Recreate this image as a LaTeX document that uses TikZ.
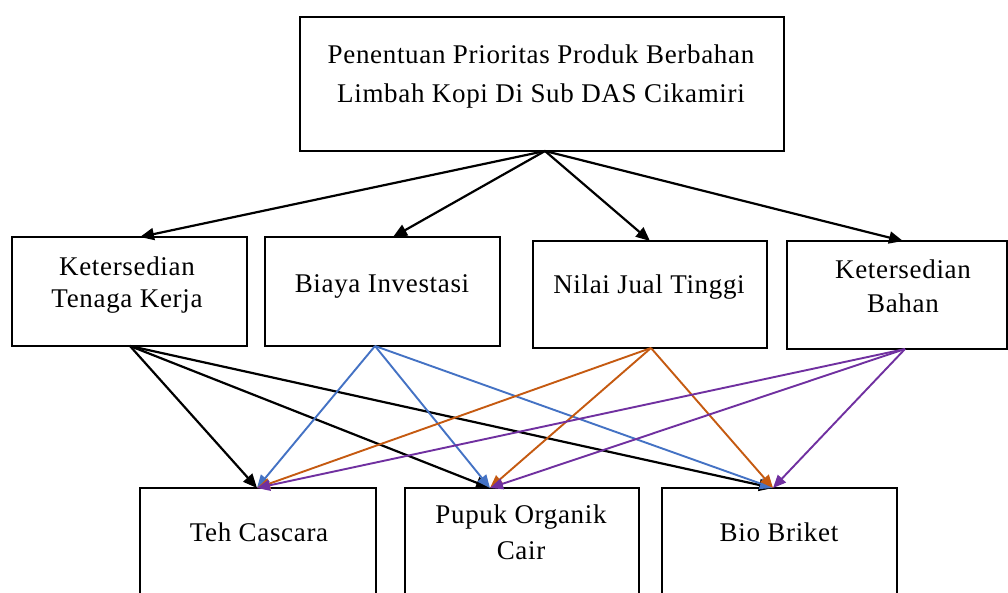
\documentclass[tikz,border=0pt]{standalone}
\usepackage{fontspec}
\setmainfont{Liberation Serif}[LetterSpace=2.5]
\usetikzlibrary{arrows.meta}
\definecolor{cblue}{HTML}{4472C4}
\definecolor{corange}{HTML}{C55A11}
\definecolor{cpurple}{HTML}{7030A0}
\tikzset{
  box/.style={draw=black, line width=2.6pt, fill=white, inner sep=0pt, outer sep=0pt},
  lbl/.style={anchor=base, inner sep=0pt, font=\fontsize{27}{32}\selectfont},
  blk/.style={line width=2.2pt, draw=black, -{Triangle[length=14pt,width=12pt]}},
  col/.style={line width=1.9pt, -{Triangle[length=13pt,width=11pt]}},
}
\begin{document}
\begin{tikzpicture}[x=1pt,y=-1pt]
\useasboundingbox (0,0) rectangle (1008,592);
\clip (0,0) rectangle (1008,592);
\fill[white] (0,0) rectangle (1008,592);
% boxes
\node[box, minimum width=484pt, minimum height=134pt] (top) at (542,84) {};
\node[box, minimum width=235pt, minimum height=109pt] (k1) at (129.5,291.5) {};
\node[box, minimum width=235pt, minimum height=109pt] (k2) at (382.5,291.5) {};
\node[box, minimum width=234pt, minimum height=107pt] (k3) at (650,294.5) {};
\node[box, minimum width=220pt, minimum height=108pt] (k4) at (897,295) {};
\node[box, minimum width=236pt, minimum height=162pt] (b1) at (258,569) {};
\node[box, minimum width=234pt, minimum height=162pt] (b2) at (522,569) {};
\node[box, minimum width=235pt, minimum height=162pt] (b3) at (779.5,569) {};
% labels
\node[lbl] (t0a) at (541,63) {Penentuan Prioritas Produk Berbahan};
\node[lbl] (t0b) at (541,102) {Limbah Kopi Di Sub DAS Cikamiri};
\node[lbl] (t1a) at (127,275) {Ketersedian};
\node[lbl] (t1b) at (127,307) {Tenaga Kerja};
\node[lbl] (t2) at (382,292) {Biaya Investasi};
\node[lbl] (t3) at (649,293) {Nilai Jual Tinggi};
\node[lbl] (t4a) at (903,278) {Ketersedian};
\node[lbl] (t4b) at (903,312) {Bahan};
\node[lbl] (t5) at (259,541) {Teh Cascara};
\node[lbl] (t6a) at (521,523) {Pupuk Organik};
\node[lbl] (t6b) at (521,559) {Cair};
\node[lbl] (t7) at (779,541) {Bio Briket};
% level 1 arrows
\draw[blk] ([xshift=3pt]top.south) -- ([xshift=10.5pt]k1.north);
\draw[blk] ([xshift=3pt]top.south) -- ([xshift=10.5pt]k2.north);
\draw[blk] ([xshift=3pt]top.south) -- (k3.north);
\draw[blk] ([xshift=3pt]top.south) -- ([xshift=6pt]k4.north);
% level 2 arrows
\draw[blk] ([xshift=0.5pt]k1.south) -- ([xshift=-1pt]b1.north);
\draw[blk] ([xshift=0.5pt]k1.south) -- ([xshift=-32pt]b2.north);
\draw[blk] ([xshift=0.5pt]k1.south) -- ([xshift=-6.5pt]b3.north);
\draw[col, cblue] ([xshift=-7.5pt]k2.south) -- ([xshift=-1pt]b1.north);
\draw[col, cblue] ([xshift=-7.5pt]k2.south) -- ([xshift=-32pt]b2.north);
\draw[col, cblue] ([xshift=-7.5pt]k2.south) -- ([xshift=-6.5pt]b3.north);
\draw[col, corange] ([xshift=1pt]k3.south) -- ([xshift=-1pt]b1.north);
\draw[col, corange] ([xshift=1pt]k3.south) -- ([xshift=-32pt]b2.north);
\draw[col, corange] ([xshift=1pt]k3.south) -- ([xshift=-6.5pt]b3.north);
\draw[col, cpurple] ([xshift=8pt]k4.south) -- ([xshift=-1pt]b1.north);
\draw[col, cpurple] ([xshift=8pt]k4.south) -- ([xshift=-32pt]b2.north);
\draw[col, cpurple] ([xshift=8pt]k4.south) -- ([xshift=-6.5pt]b3.north);
\end{tikzpicture}
\end{document}
